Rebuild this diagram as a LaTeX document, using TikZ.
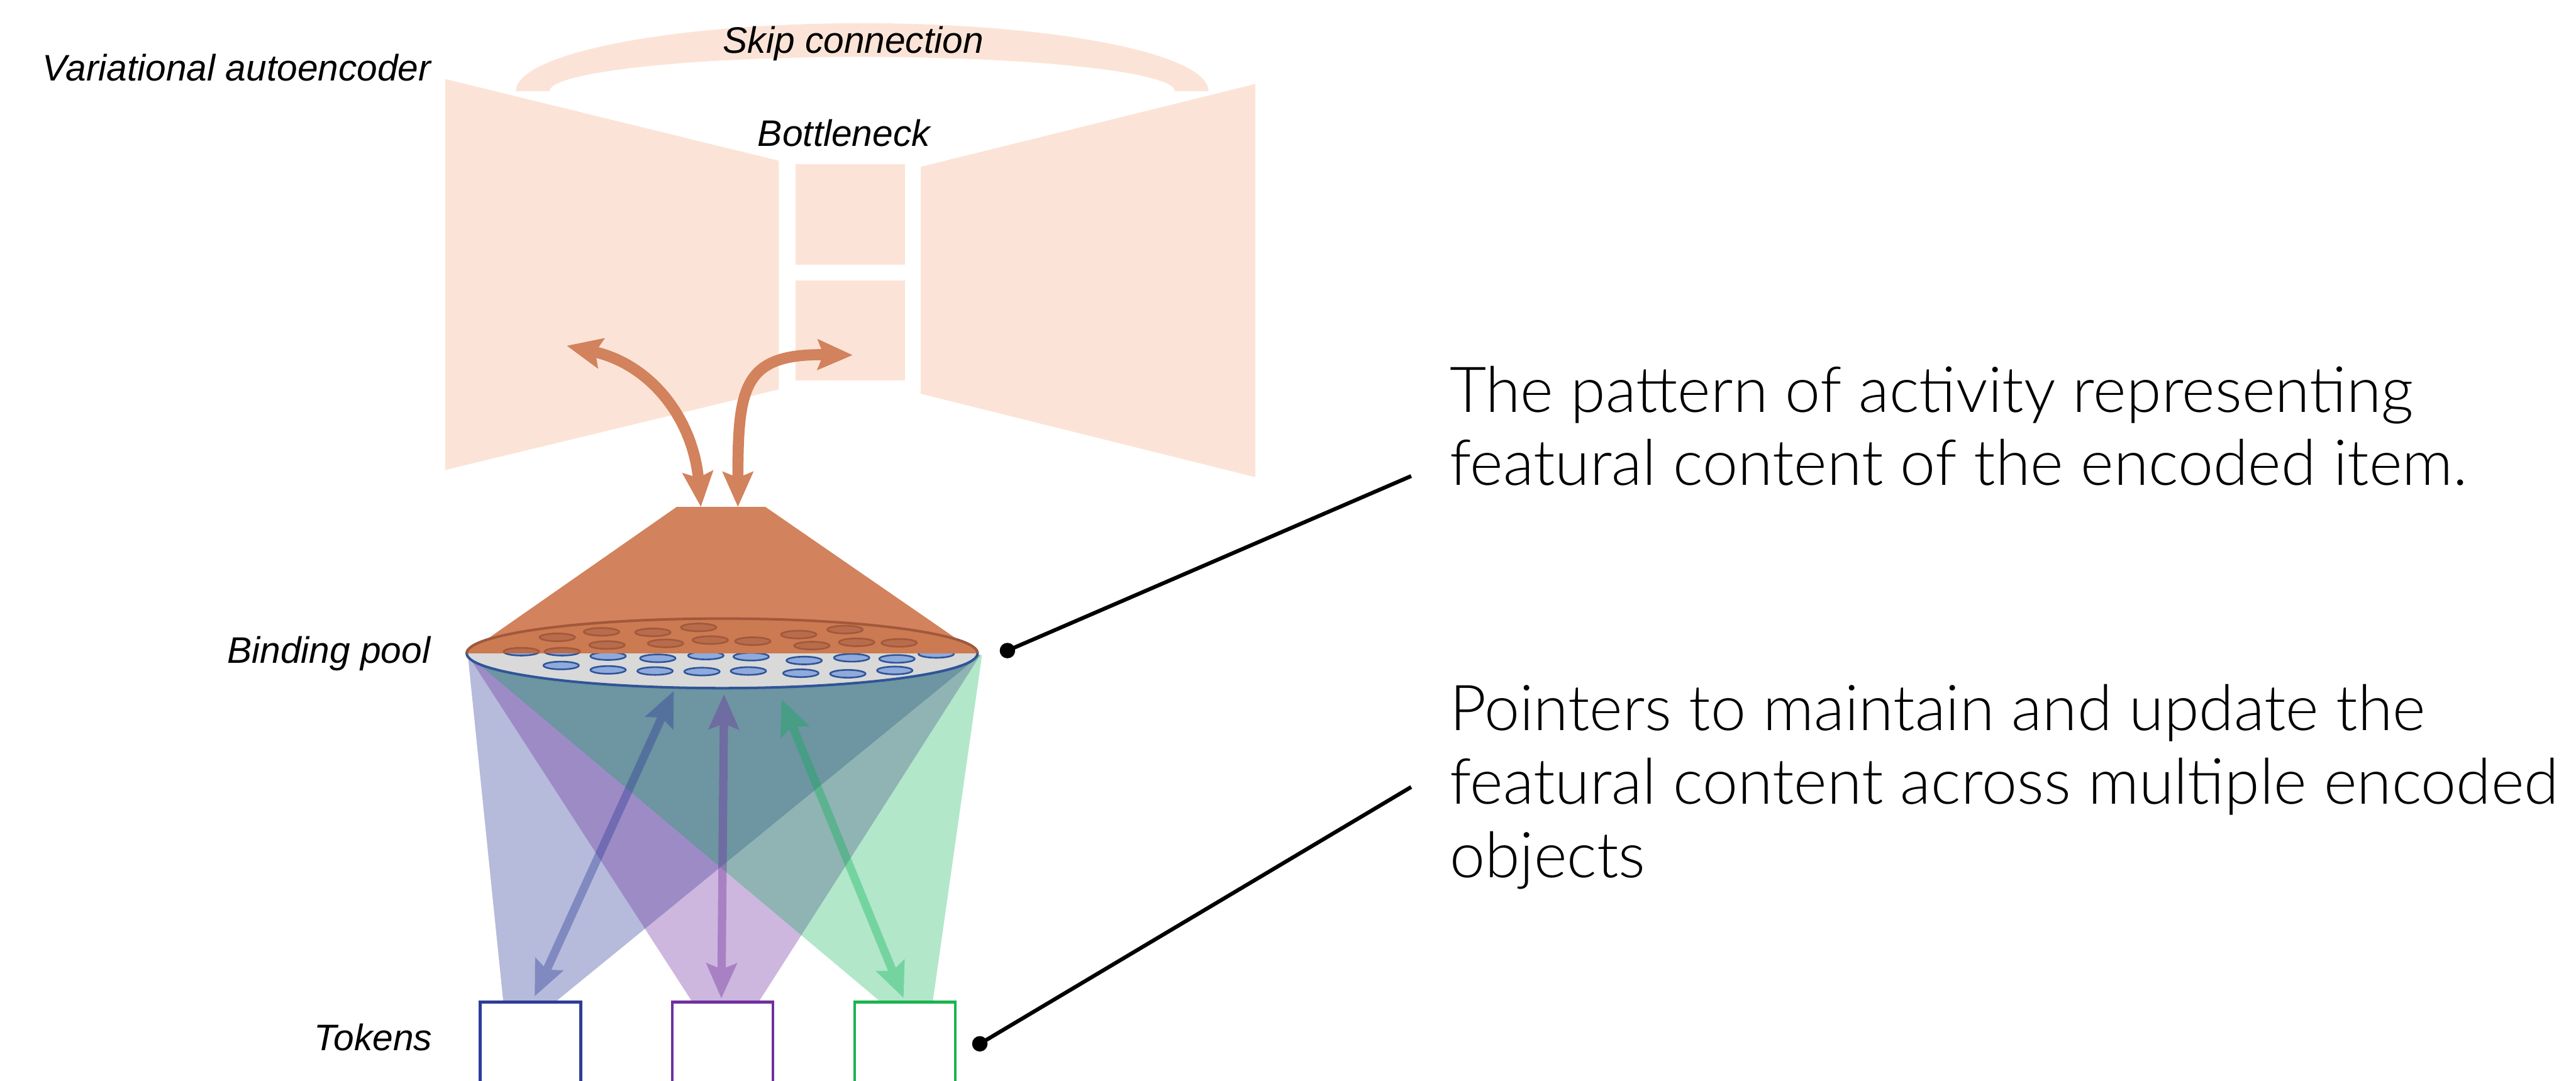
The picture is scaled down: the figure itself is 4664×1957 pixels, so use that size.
\documentclass[tikz,border=0pt]{standalone}
\usepackage{fontspec}
\setmainfont{Liberation Sans}
\newfontfamily\thinfont{Lato Light}
\usetikzlibrary{arrows.meta}
\definecolor{peach}{HTML}{FBE4D7}
\definecolor{orangeC}{HTML}{D2825C}
\definecolor{pooltop}{HTML}{CB7A52}
\definecolor{browndot}{HTML}{B86C4C}
\definecolor{brownline}{HTML}{A2583A}
\definecolor{poolgrey}{HTML}{D9D9D9}
\definecolor{poolblue}{HTML}{2F5597}
\definecolor{dotfill}{HTML}{8FAADC}
\definecolor{tokblue}{HTML}{2E3D98}
\definecolor{tokpurple}{HTML}{7030A0}
\definecolor{tokgreen}{HTML}{1DB350}
\definecolor{fangreen}{HTML}{00B050}
\begin{document}
\begin{tikzpicture}[x=0.01cm,y=-0.01cm,
  >={Stealth[length=6.3mm,width=5.4mm,inset=1mm]},
  lbl/.style={font=\fontsize{19}{22}\selectfont\itshape, inner sep=0},
  rtext/.style={font=\thinfont\fontsize{32.6}{38}\selectfont, inner sep=0, anchor=base west},
  bdot/.style={fill=dotfill, draw=poolblue, line width=0.85pt},
  brdot/.style={fill=browndot, draw=brownline, line width=0.85pt},
  tokbox/.style={fill=white, line width=1.4pt, minimum width=1.82cm, minimum height=1.78cm, anchor=north west, inner sep=0},
  orarrow/.style={orangeC, line width=5.7pt, <->},
  ptarrow/.style={line width=4.3pt, <->},
  callout/.style={line width=2pt, black}]
\useasboundingbox (0,0) rectangle (4664,1957);
\clip (0,0) rectangle (4664,1957);

% variational autoencoder
\fill[peach] (806,143) -- (1410,291) -- (1410,705) -- (806,851) -- cycle;
\fill[peach] (1440,297) rectangle (1639,479);
\fill[peach] (1440,508) rectangle (1639,689);
\fill[peach] (1667,302) -- (2273,152) -- (2273,864) -- (1667,713) -- cycle;
% skip connection band
\fill[peach] (934,165) arc[start angle=180,end angle=360,x radius=627,y radius=123]
  -- (2127,165) arc[start angle=360,end angle=180,x radius=566,y radius=62] -- cycle;

% fans
\fill[tokblue, opacity=.35] (847,1186) -- (1775,1186) -- (1008,1812) -- (911,1812) -- cycle;
\fill[tokpurple, opacity=.35] (847,1186) -- (1775,1186) -- (1375,1812) -- (1252,1812) -- cycle;
\fill[fangreen, opacity=.3] (847,1186) -- (1778,1186) -- (1689,1812) -- (1592,1812) -- cycle;

% binding pool
\filldraw[fill=poolgrey, draw=poolblue, line width=1.3pt] (1307.5,1183) ellipse[x radius=462.5, y radius=63];
\foreach \x/\y in {944/1180,1018/1180,1101/1188,1191/1192,1278/1187,1360/1189,1456/1196,1542/1191,1624/1193,1695/1184,
  1016/1205,1101/1213,1186/1215,1271/1216,1355/1215,1450/1219,1535/1220,1620/1214}
  \filldraw[bdot] (\x,\y) ellipse[x radius=32, y radius=7];
\fill[orangeC] (1225,918) -- (1386,918) -- (1770,1183) -- (845,1183) -- cycle;
\fill[pooltop] (845,1183) arc[start angle=180,end angle=360,x radius=462.5,y radius=63] -- cycle;
\begin{scope}
  \clip (845,1183) arc[start angle=180,end angle=360,x radius=462.5,y radius=63] -- cycle;
  \foreach \x/\y in {1265/1136,1089/1144,1182/1145,1009/1154,1530/1140,1446/1149,1099/1168,1205/1165,
    1286/1159,1363/1161,1470/1169,1551/1163,1628/1164,944/1180,1018/1180}
    \filldraw[brdot] (\x,\y) ellipse[x radius=32, y radius=7];
\end{scope}
\draw[brownline, line width=1.3pt] (845,1183) arc[start angle=180,end angle=360,x radius=462.5,y radius=63];

% orange arrows
\coordinate (oa1) at (1269,918); \coordinate (oa2) at (1026,626);
\coordinate (ob1) at (1336,918); \coordinate (ob2) at (1544,643);
\draw[orarrow] (oa1) .. controls (1255,760) and (1180,660) .. (oa2);
\draw[orarrow] (ob1) .. controls (1336,700) and (1345,640) .. (ob2);

% tokens
\node[tokbox, draw=tokblue] (tokA) at (867,1812) {};
\node[tokbox, draw=tokpurple] (tokB) at (1215,1812) {};
\node[tokbox, draw=tokgreen] (tokC) at (1545,1812) {};

% pointer arrows
\coordinate (pa1) at (968,1804); \coordinate (pa2) at (1220,1251);
\coordinate (pb1) at (1306,1808); \coordinate (pb2) at (1311,1257);
\coordinate (pc1) at (1636,1807); \coordinate (pc2) at (1415,1266);
\begin{scope}[transparency group, opacity=.4]
  \draw[ptarrow, tokblue] (pa1) -- (pa2);
\end{scope}
\begin{scope}[transparency group, opacity=.4]
  \draw[ptarrow, tokpurple] (pb1) -- (pb2);
\end{scope}
\begin{scope}[transparency group, opacity=.35]
  \draw[ptarrow, fangreen] (pc1) -- (pc2);
\end{scope}

% labels
\node[lbl, anchor=base east] (vae) at (781,146) {Variational autoencoder};
\node[lbl, anchor=base] (skip) at (1545,96) {Skip connection};
\node[lbl, anchor=base] (bott) at (1528,265) {Bottleneck};
\node[lbl, anchor=base east] (bind) at (780,1201) {Binding pool};
\node[lbl, anchor=base east] (toks) at (783,1902) {Tokens};

% callouts
\coordinate (c1) at (1824,1178); \coordinate (c1e) at (2555,862);
\coordinate (c2) at (1774,1890); \coordinate (c2e) at (2555,1425);
\fill (c1) circle[radius=14];
\fill (c2) circle[radius=14];
\draw[callout] (c1) -- (c1e);
\draw[callout] (c2) -- (c2e);

\node[rtext] (t1a) at (2624,746) {The pattern of activity representing};
\node[rtext] (t1b) at (2624,879) {featural content of the encoded item.};
\node[rtext] (t2a) at (2624,1323) {Pointers to maintain and update the};
\node[rtext] (t2b) at (2624,1456) {featural content across multiple encoded};
\node[rtext] (t2c) at (2624,1589) {objects};
\end{tikzpicture}
\end{document}
